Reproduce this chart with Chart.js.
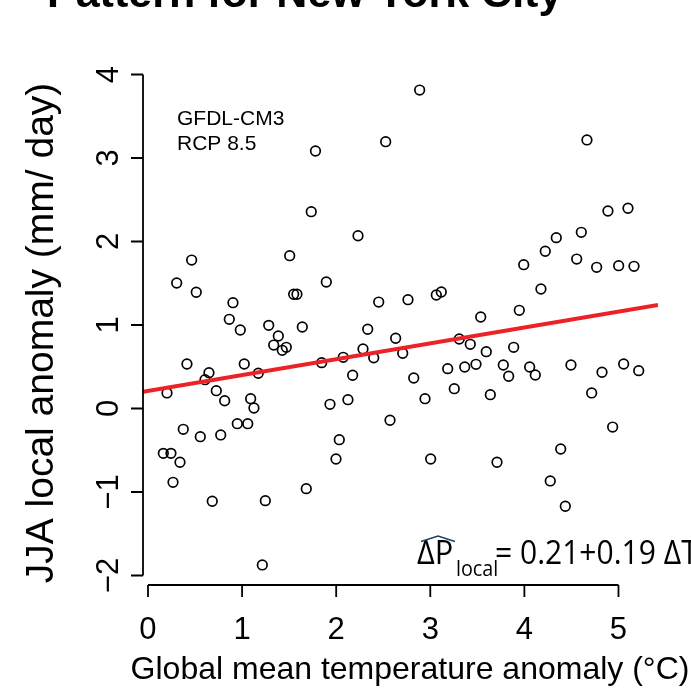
<!DOCTYPE html>
<html>
<head>
<meta charset="utf-8">
<script src="https://cdn.jsdelivr.net/npm/chart.js@4.4.1/dist/chart.umd.min.js"></script>
<style>
html,body{margin:0;padding:0;background:#fff;}
#wrap{width:691px;height:700px;}
</style>
</head>
<body>
<div id="wrap"><canvas id="c" width="691" height="700"></canvas></div>
<script>
// ---- data ----
const globalTempAnomaly = [0.163,0.202,0.244,0.266,0.305,0.340,0.375,0.414,0.464,0.513,
  0.556,0.606,0.648,0.683,0.726,0.773,0.815,0.864,0.903,0.949,
  0.981,1.023,1.060,1.091,1.126,1.172,1.215,1.247,1.283,1.336,
  1.385,1.427,1.470,1.506,1.548,1.583,1.640,1.682,1.735,1.780,
  1.846,1.895,1.934,1.998,2.033,2.075,2.125,2.175,2.232,2.285,
  2.335,2.399,2.452,2.526,2.572,2.632,2.707,2.763,2.824,2.887,
  2.944,3.004,3.064,3.117,3.185,3.255,3.308,3.366,3.425,3.486,
  3.536,3.595,3.638,3.709,3.776,3.833,3.886,3.946,3.993,4.056,
  4.116,4.176,4.222,4.275,4.339,4.386,4.435,4.495,4.556,4.605,
  4.665,4.715,4.768,4.825,4.888,4.938,5.002,5.055,5.101,5.165,5.215];
const jjaLocalAnomaly = [-0.537,0.186,-0.537,-0.884,1.503,-0.644,-0.249,0.533,1.778,1.392,
  -0.338,0.345,0.429,-1.111,0.213,-0.317,0.093,1.068,1.267,-0.182,
  0.940,0.533,-0.182,0.117,0.006,0.422,-1.874,-1.104,0.996,0.760,
  0.868,0.697,0.733,1.830,1.368,1.368,0.976,-0.960,2.357,3.084,
  0.549,1.515,0.050,-0.605,-0.374,0.613,0.105,0.398,2.069,0.713,
  0.949,0.608,1.275,3.195,-0.141,0.841,0.661,1.303,0.365,3.814,
  0.117,-0.605,1.359,1.395,0.477,0.237,0.832,0.497,0.769,0.529,
  1.096,0.680,0.165,-0.644,0.521,0.386,0.733,1.176,1.722,0.497,
  0.401,1.431,1.883,-0.868,2.046,-0.485,-1.171,0.521,1.790,2.110,
  3.216,0.186,1.691,0.434,2.365,-0.222,1.710,0.533,2.398,1.703,0.453];
const xTickValues = [0,1,2,3,4,5];
const yTickValues = [-2,-1,0,1,2,3,4];
const fitIntercept = 0.21;
const fitSlope = 0.19;
const xLimits = [-0.053, 5.42];
const yLimits = [-2.114, 4.054];

const titleText = 'Pattern for New York City';
const xTitle = 'Global mean temperature anomaly (\u00B0C)';
const yTitle = 'JJA local anomaly (mm/ day)';
const modelLines = ['GFDL-CM3', 'RCP 8.5'];

// ---- build datasets ----
const points = globalTempAnomaly.map((x, i) => ({x: x, y: jjaLocalAnomaly[i]}));
const fitLine = xLimits.map(x => ({x: x, y: fitIntercept + fitSlope * x}));

const SANS = '"Liberation Sans", Arial, Helvetica, sans-serif';
const EQ = '"Open Sans", "Noto Sans", sans-serif';

function txt(ctx, s, x, y, font, align, base, sx) {
  ctx.save();
  ctx.font = font;
  ctx.textAlign = align || 'left';
  ctx.textBaseline = base || 'alphabetic';
  ctx.translate(x, y);
  if (sx) ctx.scale(sx, 1);
  ctx.fillText(s, 0, 0);
  ctx.restore();
}

const decor = {
  id: 'decor',
  afterDraw(chart) {
    const ctx = chart.ctx;
    const xs = chart.scales.x, ys = chart.scales.y;
    const ca = chart.chartArea;
    ctx.save();
    ctx.fillStyle = '#000';
    ctx.strokeStyle = '#000';
    ctx.lineWidth = 1.8;
    ctx.lineCap = 'butt';
    // x axis
    const xa = xs.getPixelForValue(xTickValues[0]);
    const xb = xs.getPixelForValue(xTickValues[xTickValues.length - 1]);
    const yAxisY = ca.bottom;
    ctx.beginPath();
    ctx.moveTo(xa, yAxisY); ctx.lineTo(xb, yAxisY);
    xTickValues.forEach(v => {
      const px = xs.getPixelForValue(v);
      ctx.moveTo(px, yAxisY); ctx.lineTo(px, yAxisY + 12);
    });
    ctx.stroke();
    xTickValues.forEach(v => {
      txt(ctx, String(v), xs.getPixelForValue(v), 639, '31px ' + SANS, 'center');
    });
    // y axis
    const xAxisX = ca.left;
    const ya = ys.getPixelForValue(yTickValues[0]);
    const yb = ys.getPixelForValue(yTickValues[yTickValues.length - 1]);
    ctx.beginPath();
    ctx.moveTo(xAxisX, ya); ctx.lineTo(xAxisX, yb);
    yTickValues.forEach(v => {
      const py = ys.getPixelForValue(v);
      ctx.moveTo(xAxisX, py); ctx.lineTo(xAxisX - 12, py);
    });
    ctx.stroke();
    yTickValues.forEach(v => {
      const py = ys.getPixelForValue(v);
      ctx.save();
      ctx.translate(118, py);
      ctx.rotate(-Math.PI / 2);
      ctx.font = '31px ' + SANS;
      ctx.textAlign = 'center';
      ctx.textBaseline = 'alphabetic';
      ctx.fillText(v < 0 ? '\u2212' + Math.abs(v) : String(v), 0, 0);
      ctx.restore();
    });
    // axis titles
    txt(ctx, xTitle, 410, 679, '32px ' + SANS, 'center');
    ctx.save();
    ctx.translate(53, 333);
    ctx.rotate(-Math.PI / 2);
    ctx.font = '39px ' + SANS;
    ctx.textAlign = 'center';
    ctx.fillText(yTitle, 0, 0);
    ctx.restore();
    // title (cut off at top)
    txt(ctx, titleText, 47, 7, 'bold 43px ' + SANS, 'left');
    // model text
    txt(ctx, modelLines[0], 177, 125, '21px ' + SANS, 'left');
    txt(ctx, modelLines[1], 177, 150, '21px ' + SANS, 'left');
    // equation
    txt(ctx, '\u0394P', 417, 564, '33px ' + EQ, 'left', 'alphabetic', 0.93);
    txt(ctx, 'local', 456, 576, '21px ' + EQ, 'left', 'alphabetic', 0.94);
    txt(ctx, '= ' + fitIntercept.toFixed(2) + '+' + fitSlope.toFixed(2) + ' \u0394T', 495, 564, '33px ' + EQ, 'left', 'alphabetic', 0.91);
    ctx.strokeStyle = '#1f3d66';
    ctx.lineWidth = 1.4;
    ctx.beginPath();
    ctx.moveTo(421, 541.5); ctx.lineTo(438, 536); ctx.lineTo(455, 541.5);
    ctx.stroke();
    ctx.restore();
  }
};

new Chart(document.getElementById('c'), {
  type: 'scatter',
  data: {
    datasets: [
      {
        type: 'line',
        data: fitLine,
        borderColor: '#ec2227',
        borderWidth: 4,
        pointRadius: 0,
        fill: false,
        order: 0
      },
      {
        data: points,
        showLine: false,
        pointStyle: 'circle',
        pointRadius: 4.8,
        pointBorderWidth: 1.7,
        borderColor: '#000',
        backgroundColor: 'rgba(0,0,0,0)',
        pointBackgroundColor: 'rgba(0,0,0,0)',
        order: 1
      }
    ]
  },
  options: {
    responsive: false,
    devicePixelRatio: 1,
    animation: false,
    layout: {padding: {left: 143, right: 33, top: 70, bottom: 115}},
    plugins: {legend: {display: false}, tooltip: {enabled: false}, title: {display: false}},
    scales: {
      x: {type: 'linear', min: xLimits[0], max: xLimits[1], display: false},
      y: {type: 'linear', min: yLimits[0], max: yLimits[1], display: false}
    }
  },
  plugins: [decor]
});
</script>
</body>
</html>
